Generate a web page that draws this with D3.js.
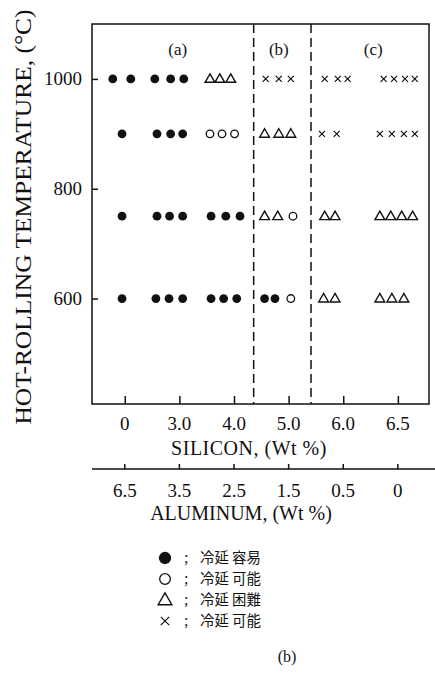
<!DOCTYPE html>
<html>
<head>
<meta charset="utf-8">
<script src="https://cdn.jsdelivr.net/npm/d3@7"></script>
<style>
  body { margin: 0; background: #fff; }
  svg { display: block; }
  .serif { font-family: "Liberation Serif", "DejaVu Serif", serif; fill: #111; }
  .cjk { font-family: "Noto Sans CJK JP", "Noto Sans CJK SC", sans-serif; fill: #111; }
</style>
</head>
<body>
<div id="vis"></div>
<script>
const frame_width = 435;
const frame_height = 681;
const margins = {left: 92, right: 6, top: 24, bottom: 277};

// tick labels
const silicon_ticks = ["0", "3.0", "4.0", "5.0", "6.0", "6.5"];
const aluminum_ticks = ["6.5", "3.5", "2.5", "1.5", "0.5", "0"];
const temp_ticks = [1000, 800, 600];

// region boundaries (composition index) and region labels
const boundaries = [2.36, 3.41];
const regions = ["(a)", "(b)", "(c)"];
const region_pos = [0.97, 2.82, 4.55];

// test points: temperature rows, x position (composition index) and result
// f = filled circle, o = open circle, t = triangle, x = cross
const rows = [1000, 900, 750, 600];
const pos_1000 = [-0.22, 0.11, 0.55, 0.84, 1.08, 1.56, 1.74, 1.94, 2.58, 2.82, 3.04, 3.66, 3.90, 4.08, 4.74, 4.93, 5.13, 5.31];
const mark_1000 = "f f f f f t t t x x x x x x x x x x".split(" ");
const pos_900 = [-0.05, 0.59, 0.84, 1.06, 1.56, 1.78, 2.01, 2.56, 2.82, 3.04, 3.61, 3.88, 4.67, 4.89, 5.11, 5.31];
const mark_900 = "f f f f o o o t t t x x x x x x".split(" ");
const pos_750 = [-0.05, 0.59, 0.82, 1.06, 1.58, 1.85, 2.11, 2.56, 2.80, 3.08, 3.66, 3.85, 4.67, 4.87, 5.07, 5.27];
const mark_750 = "f f f f f f f t t o t t t t t t".split(" ");
const pos_600 = [-0.05, 0.57, 0.81, 1.06, 1.58, 1.81, 2.05, 2.56, 2.75, 3.04, 3.64, 3.85, 4.67, 4.89, 5.11];
const mark_600 = "f f f f f f f f f o t t t t t".split(" ");

// legend
const legend_marks = ["f", "o", "t", "x"];
const legend_texts = ["冷延 容易", "冷延 可能", "冷延 困難", "冷延 可能"];

const point_data = [];
[[1000, pos_1000, mark_1000], [900, pos_900, mark_900], [750, pos_750, mark_750], [600, pos_600, mark_600]]
    .forEach(([t, ps, ms]) => {
        ps.forEach((p, i) => point_data.push({temp: t, pos: p, mark: ms[i]}));
    });

const svg = d3.select("#vis")
    .append("svg")
        .attr("width", frame_width)
        .attr("height", frame_height);

const plot_bottom = frame_height - margins.bottom;
const plot_right = frame_width - margins.right;

const x_scale = d3.scaleLinear()
    .domain([-0.6, 5.57])
    .range([margins.left, plot_right]);

const y_scale = d3.scaleLinear()
    .domain([408, 1100])
    .range([plot_bottom, margins.top]);

// frame
svg.append("rect")
    .attr("x", margins.left)
    .attr("y", margins.top)
    .attr("width", plot_right - margins.left)
    .attr("height", plot_bottom - margins.top)
    .attr("fill", "none")
    .attr("stroke", "#111")
    .attr("stroke-width", 1.5);

// y axis (ticks inside)
const y_axis = svg.append("g")
    .attr("transform", "translate(" + margins.left + ",0)")
    .call(d3.axisRight(y_scale).tickValues(temp_ticks).tickSize(6).tickFormat(""));
y_axis.select(".domain").remove();
y_axis.selectAll("line").attr("stroke", "#111").attr("stroke-width", 1.5);

svg.selectAll(".ylab")
    .data(temp_ticks)
    .enter()
    .append("text")
        .attr("class", "serif ylab")
        .attr("x", margins.left - 10)
        .attr("y", (d) => y_scale(d) + 6.5)
        .attr("text-anchor", "end")
        .attr("font-size", "19px")
        .text((d) => d);

// silicon ticks (inside, bottom)
const x_axis = svg.append("g")
    .attr("transform", "translate(0," + plot_bottom + ")")
    .call(d3.axisTop(x_scale).tickValues(d3.range(silicon_ticks.length)).tickSize(8).tickFormat(""));
x_axis.select(".domain").remove();
x_axis.selectAll("line").attr("stroke", "#111").attr("stroke-width", 1.5);

svg.selectAll(".silab")
    .data(silicon_ticks)
    .enter()
    .append("text")
        .attr("class", "serif silab")
        .attr("x", (d, i) => x_scale(i))
        .attr("y", plot_bottom + 26)
        .attr("text-anchor", "middle")
        .attr("font-size", "19px")
        .text((d) => d);

svg.append("text")
    .attr("class", "serif")
    .attr("x", 249)
    .attr("y", plot_bottom + 51)
    .attr("text-anchor", "middle")
    .attr("font-size", "20px")
    .attr("letter-spacing", "0.5px")
    .text("SILICON, (Wt %)");

// aluminum axis
const al_y = plot_bottom + 65;
svg.append("line")
    .attr("x1", margins.left)
    .attr("x2", frame_width)
    .attr("y1", al_y)
    .attr("y2", al_y)
    .attr("stroke", "#111")
    .attr("stroke-width", 1.5);

svg.selectAll(".altick")
    .data(aluminum_ticks)
    .enter()
    .append("line")
        .attr("class", "altick")
        .attr("x1", (d, i) => x_scale(i))
        .attr("x2", (d, i) => x_scale(i))
        .attr("y1", al_y)
        .attr("y2", al_y - 5)
        .attr("stroke", "#111")
        .attr("stroke-width", 1.5);

svg.selectAll(".allab")
    .data(aluminum_ticks)
    .enter()
    .append("text")
        .attr("class", "serif allab")
        .attr("x", (d, i) => x_scale(i))
        .attr("y", al_y + 28)
        .attr("text-anchor", "middle")
        .attr("font-size", "19px")
        .text((d) => d);

svg.append("text")
    .attr("class", "serif")
    .attr("x", 241)
    .attr("y", al_y + 51)
    .attr("text-anchor", "middle")
    .attr("font-size", "20px")
    .text("ALUMINUM, (Wt %)");

// y axis title
svg.append("text")
    .attr("class", "serif")
    .attr("transform", "translate(31,217) rotate(-90)")
    .attr("text-anchor", "middle")
    .attr("font-size", "24px")
    .attr("textLength", 415)
    .attr("lengthAdjust", "spacingAndGlyphs")
    .text("HOT-ROLLING TEMPERATURE, (°C)");

// dashed region boundaries
svg.selectAll(".bound")
    .data(boundaries)
    .enter()
    .append("line")
        .attr("x1", (d) => x_scale(d))
        .attr("x2", (d) => x_scale(d))
        .attr("y1", margins.top)
        .attr("y2", plot_bottom)
        .attr("stroke", "#111")
        .attr("stroke-width", 1.5)
        .attr("stroke-dasharray", "9,5");

svg.selectAll(".region")
    .data(regions)
    .enter()
    .append("text")
        .attr("class", "serif region")
        .attr("x", (d, i) => x_scale(region_pos[i]))
        .attr("y", 55)
        .attr("text-anchor", "middle")
        .attr("font-size", "17px")
        .text((d) => d);

// marker drawing
function drawMark(sel, type, s) {
    if (type === "f") {
        sel.append("circle").attr("r", 4.4 * s).attr("fill", "#111");
    } else if (type === "o") {
        sel.append("circle").attr("r", 3.8 * s).attr("fill", "none")
            .attr("stroke", "#111").attr("stroke-width", 1.3);
    } else if (type === "t") {
        const h = 8.5 * s, w = 4.9 * s;
        sel.append("path")
            .attr("d", "M0," + (-h * 0.6) + "L" + w + "," + (h * 0.4) + "L" + (-w) + "," + (h * 0.4) + "Z")
            .attr("fill", "none").attr("stroke", "#111").attr("stroke-width", 1.4);
    } else {
        const c = 3 * s;
        sel.append("path")
            .attr("d", "M" + (-c) + "," + (-c) + "L" + c + "," + c + "M" + c + "," + (-c) + "L" + (-c) + "," + c)
            .attr("fill", "none").attr("stroke", "#111").attr("stroke-width", 1.2);
    }
}

svg.selectAll(".pt")
    .data(point_data)
    .enter()
    .append("g")
        .attr("class", "pt")
        .attr("transform", (d) => "translate(" + x_scale(d.pos) + "," + y_scale(d.temp) + ")")
        .each(function (d) { drawMark(d3.select(this), d.mark, 1); });

// legend
const legend = svg.selectAll(".leg")
    .data(legend_marks)
    .enter()
    .append("g")
        .attr("class", "leg")
        .attr("transform", (d, i) => "translate(165," + (558 + i * 21) + ")");

legend.each(function (d) { drawMark(d3.select(this), d, 1.4); });

legend.append("text")
    .attr("class", "serif")
    .attr("x", 19)
    .attr("y", 5)
    .attr("font-size", "16px")
    .text(";");

legend.append("text")
    .attr("class", "cjk")
    .attr("x", 35)
    .attr("y", 5)
    .attr("font-size", "14.4px")
    .text((d, i) => legend_texts[i]);

svg.append("text")
    .attr("class", "serif")
    .attr("x", 287)
    .attr("y", 662)
    .attr("text-anchor", "middle")
    .attr("font-size", "16px")
    .text("(b)");
</script>
</body>
</html>
